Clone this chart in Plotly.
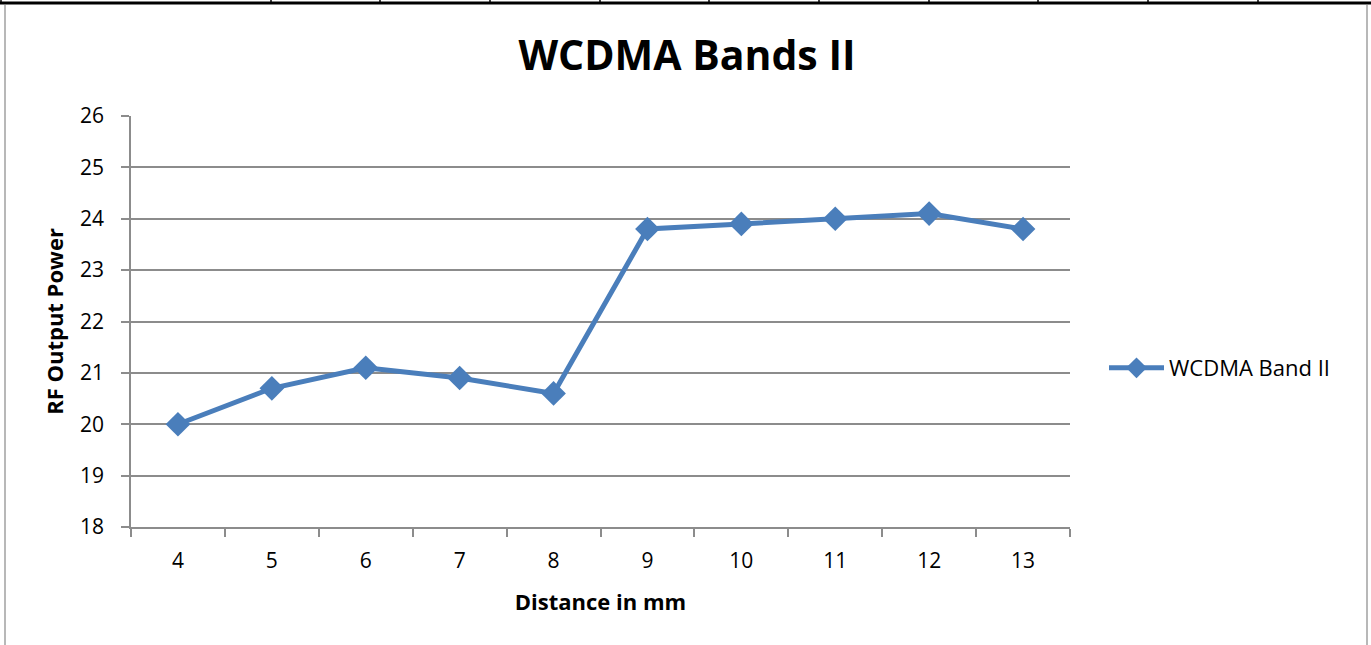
import plotly.graph_objects as go

distance = ["4", "5", "6", "7", "8", "9", "10", "11", "12", "13"]
rf_power = [20.0, 20.7, 21.1, 20.9, 20.6, 23.8, 23.9, 24.0, 24.1, 23.8]
series_name = "WCDMA Band II"
title_text = "WCDMA Bands II"
table_ticks_px = [1, 271, 380, 490, 600, 709, 819, 929, 1038, 1148, 1258]

W, H = 1371, 645
L, R, T, B = 131, 1070, 116, 527
pw, ph = R - L, B - T

def px(x):
    return (x - L) / pw

def py(y):
    return (B - y) / ph

font = "Open Sans"
blue = "#4A7EBB"
grid = "#8C8C8C"

fig = go.Figure()
fig.add_trace(go.Scatter(
    x=distance, y=rf_power, mode="lines+markers", name=series_name,
    line=dict(color=blue, width=5),
    marker=dict(symbol="diamond", size=19, color=blue),
))

shapes = []
shapes.append(dict(type="line", xref="paper", yref="paper", x0=px(0), x1=px(W), y0=py(3), y1=py(3),
                   line=dict(color="black", width=3)))
for t in table_ticks_px:
    shapes.append(dict(type="line", xref="paper", yref="paper", x0=px(t), x1=px(t), y0=py(0), y1=py(4),
                       line=dict(color="black", width=1.5)))
shapes.append(dict(type="line", xref="paper", yref="paper", x0=px(5), x1=px(5), y0=py(5), y1=py(H),
                   line=dict(color="#A0A0A0", width=1.5)))
shapes.append(dict(type="line", xref="paper", yref="paper", x0=px(1367), x1=px(1367), y0=py(5), y1=py(H),
                   line=dict(color="#A0A0A0", width=1.5)))

fig.update_layout(
    width=W, height=H,
    margin=dict(l=L, r=W - R, t=T, b=H - B, autoexpand=False),
    paper_bgcolor="white", plot_bgcolor="white",
    title=dict(text="<b>" + title_text + "</b>", x=px(687), xref="paper", xanchor="center",
               y=1 - 56 / H, yanchor="middle",
               font=dict(family=font, size=41, color="black")),
    font=dict(family=font, color="black"),
    showlegend=True,
    legend=dict(x=px(1104), y=py(368), xanchor="left", yanchor="middle", itemwidth=55,
                font=dict(family=font, size=22, color="black"), bgcolor="rgba(0,0,0,0)"),
    xaxis=dict(type="category", range=[-0.5, 9.5], tickson="boundaries",
               ticks="outside", ticklen=8, tickcolor=grid, tickwidth=1.5,
               showline=True, linecolor=grid, linewidth=1.5, ticklabelstandoff=14,
               showgrid=False, tickfont=dict(size=21, family=font),
               title=dict(text="<b>Distance in mm</b>", font=dict(size=22, family=font), standoff=22)),
    yaxis=dict(range=[18, 26], dtick=1, ticks="outside", ticklen=8, tickcolor=grid, tickwidth=1.5,
               showline=True, linecolor=grid, linewidth=1.5, ticklabelstandoff=13,
               showgrid=True, gridcolor=grid, gridwidth=1.5, zeroline=False,
               tickfont=dict(size=21, family=font),
               title=dict(text="<b>RF Output Power</b>", font=dict(size=22, family=font), standoff=10)),
    shapes=shapes,
)

fig.write_html("out.html", config={"displayModeBar": False},
               post_script="document.body.style.margin='0px';document.body.style.overflow='hidden';")
